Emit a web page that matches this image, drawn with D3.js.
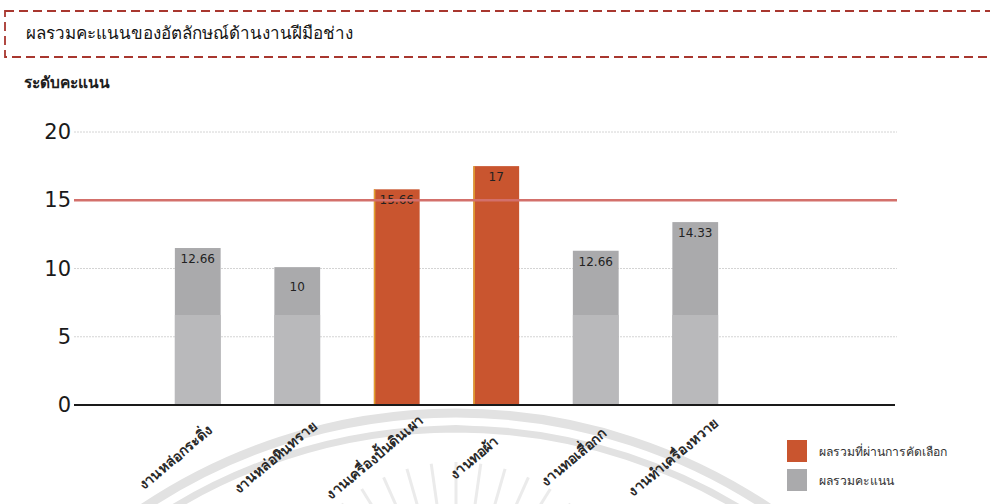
<!DOCTYPE html>
<html>
<head>
<meta charset="utf-8">
<script src="https://cdn.jsdelivr.net/npm/d3@7"></script>
<style>
  body { margin: 0; background: #fff; }
  text { font-family: "Noto Sans", "DejaVu Sans", sans-serif; }
</style>
</head>
<body>
<div id="chart"></div>
<script>
// categories and values
var categories = ["งานหล่อกระดิ่ง", "งานหล่อหินทราย", "งานเครื่องปั้นดินเผา", "งานทอผ้า", "งานทอเสื่อกก", "งานทำเครื่องหวาย"];
var barHeights = [11.5, 10.1, 15.8, 17.5, 11.3, 13.4];   // as drawn in the picture
var barLabels = ["12.66", "10", "15.66", "17", "12.66", "14.33"];
var passed = [false, false, true, true, false, false];
var yTicks = [0, 5, 10, 15, 20];
var cutoff = [15];
var legendItems = ["ผลรวมที่ผ่านการคัดเลือก", "ผลรวมคะแนน"];

var width = 990, height = 504;
var orange = "#c9552f", gray = "#aaaaac", grayLight = "#b9b9bb";

var svg = d3.select("#chart")
  .append("svg")
  .attr("width", width)
  .attr("height", height);

// faint watermark (seal showing through the scan)
var wm = svg.append("g").attr("fill", "none").attr("stroke", "#e2e2e2")
  .attr("transform", "translate(456,976)");
[[563, 9], [547, 7]].forEach(function (a) {
  wm.append("path")
    .attr("stroke-width", a[1])
    .attr("d", d3.arc()({ innerRadius: a[0], outerRadius: a[0], startAngle: -0.62, endAngle: 0.62 }));
});
var rays = svg.append("g").attr("stroke", "#ebebeb").attr("stroke-width", 3)
  .attr("transform", "translate(456,640)");
d3.range(-48, 49, 8).forEach(function (deg) {
  var a = deg * Math.PI / 180;
  rays.append("line")
    .attr("x1", 136 * Math.sin(a)).attr("y1", -136 * Math.cos(a))
    .attr("x2", 178 * Math.sin(a)).attr("y2", -178 * Math.cos(a));
});

// dashed title box
svg.append("rect")
  .attr("x", 5).attr("y", 11)
  .attr("width", 1000).attr("height", 46)
  .attr("fill", "none")
  .attr("stroke", "#a8372f")
  .attr("stroke-width", 1.8)
  .attr("stroke-dasharray", "9,5");

svg.append("text")
  .attr("x", 26).attr("y", 39)
  .attr("font-size", 17)
  .attr("fill", "#151515")
  .style("font-weight", 500)
  .text("ผลรวมคะแนนของอัตลักษณ์ด้านงานฝีมือช่าง");

svg.append("text")
  .attr("x", 24).attr("y", 88)
  .attr("font-size", 15.5)
  .attr("font-weight", "bold")
  .attr("fill", "#1e1e1e")
  .text("ระดับคะแนน");

var x = d3.scaleBand()
  .domain(categories)
  .range([148, 745])
  .paddingInner(0.54)
  .paddingOuter(0.27);

var y = d3.scaleLinear()
  .domain([0, 20])
  .range([405, 132]);

var left = 74, right = 897;

// grid lines
svg.append("g")
  .selectAll("line")
  .data(yTicks.filter(function (d) { return d != 0 && d != 15; }))
  .enter()
  .append("line")
  .attr("x1", left).attr("x2", right)
  .attr("y1", function (d) { return y(d); })
  .attr("y2", function (d) { return y(d); })
  .attr("stroke", "#d4d4d4")
  .attr("stroke-dasharray", "2,1");

// y axis labels
var yAxis = svg.append("g")
  .attr("transform", "translate(" + (left - 3) + ",0)")
  .call(d3.axisLeft(y).tickValues(yTicks).tickSize(0).tickPadding(0));
yAxis.select(".domain").remove();
yAxis.selectAll("text")
  .attr("font-size", 21)
  .attr("fill", "#1a1a1a")
  .style("font-family", "'DejaVu Sans', sans-serif");

// bars
var bars = svg.append("g")
  .selectAll("g")
  .data(categories)
  .enter()
  .append("g");

bars.append("rect")
  .attr("x", function (d) { return x(d); })
  .attr("y", function (d, i) { return y(barHeights[i]); })
  .attr("width", x.bandwidth())
  .attr("height", function (d, i) { return y(0) - y(barHeights[i]); })
  .attr("fill", function (d, i) { return passed[i] ? orange : gray; });

// lighter lower part of the grey bars (scan shading)
bars.filter(function (d, i) { return !passed[i]; })
  .append("rect")
  .attr("x", function (d) { return x(d); })
  .attr("y", 315)
  .attr("width", x.bandwidth())
  .attr("height", y(0) - 315)
  .attr("fill", grayLight);

// thin yellowish left edge on the orange bars
bars.filter(function (d, i) { return passed[i]; })
  .append("rect")
  .attr("x", function (d) { return x(d); })
  .attr("y", function (d) { return y(barHeights[categories.indexOf(d)]); })
  .attr("width", 1.5)
  .attr("height", function (d) { return y(0) - y(barHeights[categories.indexOf(d)]); })
  .attr("fill", "#e0a030");

bars.append("text")
  .attr("x", function (d) { return x(d) + x.bandwidth() / 2; })
  .attr("y", function (d, i) { return y(barHeights[i]) + (barLabels[i] == "10" ? 24 : 15); })
  .attr("text-anchor", "middle")
  .attr("font-size", 12)
  .attr("fill", "#222")
  .style("font-family", "'DejaVu Sans', sans-serif")
  .text(function (d, i) { return barLabels[i]; });

// cutoff line
svg.append("g")
  .selectAll("line")
  .data(cutoff)
  .enter()
  .append("line")
  .attr("x1", left).attr("x2", right)
  .attr("y1", function (d) { return y(d); })
  .attr("y2", function (d) { return y(d); })
  .attr("stroke", "#d3706b")
  .attr("stroke-width", 2.5);

// baseline
svg.append("line")
  .attr("x1", left).attr("x2", 895)
  .attr("y1", y(0)).attr("y2", y(0))
  .attr("stroke", "#1a1a1a")
  .attr("stroke-width", 2);

// x labels, centred and turned about 40 degrees
svg.append("g")
  .selectAll("text")
  .data(categories)
  .enter()
  .append("text")
  .attr("transform", function (d) {
    return "translate(" + (x(d) + x.bandwidth() / 2 - 19) + ",461) rotate(-40)";
  })
  .attr("text-anchor", "middle")
  .attr("font-size", 14)
  .attr("font-weight", "bold")
  .attr("fill", "#2a2a2a")
  .text(function (d) { return d; });

// legend
var legend = svg.append("g")
  .selectAll("g")
  .data(legendItems)
  .enter()
  .append("g")
  .attr("transform", function (d, i) { return "translate(787," + (440 + i * 29) + ")"; });

legend.append("rect")
  .attr("width", 20).attr("height", 22)
  .attr("fill", function (d, i) { return i == 0 ? orange : gray; });

legend.append("text")
  .attr("x", 32).attr("y", 16)
  .attr("font-size", 12.2)
  .attr("fill", "#333")
  .text(function (d) { return d; });
</script>
</body>
</html>
